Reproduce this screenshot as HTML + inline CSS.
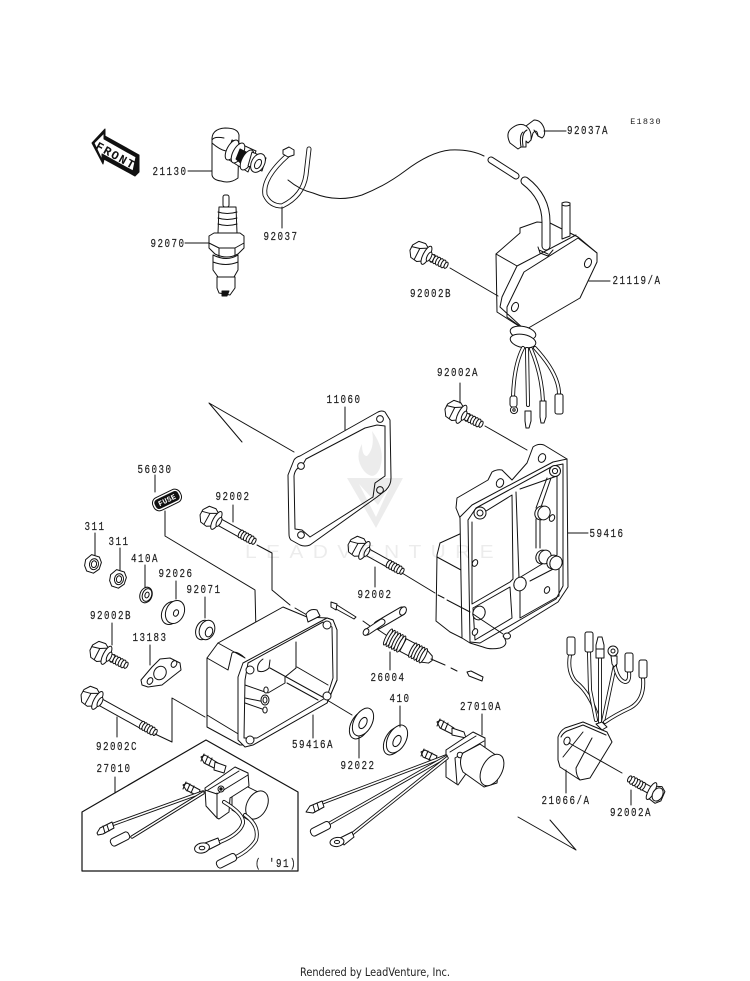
<!DOCTYPE html>
<html><head><meta charset="utf-8">
<style>
html,body{margin:0;padding:0;background:#fff}
svg{display:block}
.p,.p *{fill:#fff;stroke:#111;stroke-width:1;stroke-linejoin:round;stroke-linecap:round}
.n{fill:none!important}
.o{fill:none!important;stroke:#111}
.i{fill:none!important;stroke:#fff!important}
.k{fill:#111!important}
text{font-family:"Liberation Mono",monospace;text-anchor:middle}
.l text{font-size:11.5px;letter-spacing:1.85px;fill:#222;stroke:#222;stroke-width:.2;transform-box:fill-box;transform-origin:center;transform:scaleX(.8)}
</style></head><body>
<svg width="750" height="981" viewBox="0 0 750 981" xmlns="http://www.w3.org/2000/svg">
<defs>
<g id="hd"><path d="M-12,-3 L-8,-9 L-1,-10 L4,-7 L4,7 L-1,10 L-8,9 L-12,3 Z"/><path class="n" d="M-12,-1 L-4,-3 L3,-7 M-4,-3 L-4,9"/><ellipse cx="5" cy="0" rx="3.4" ry="10"/><ellipse cx="8" cy="0" rx="2" ry="5"/></g>
<g id="t"><ellipse cx="0" cy="0" rx="2" ry="4.2"/><ellipse cx="3" cy="0" rx="2" ry="4.2"/><ellipse cx="6" cy="0" rx="2" ry="4.2"/><ellipse cx="9" cy="0" rx="2" ry="4.2"/><ellipse cx="12" cy="0" rx="2" ry="4.2"/><ellipse cx="15" cy="0" rx="1.6" ry="3.4"/></g>
<g id="bl"><rect x="4" y="-3.6" width="38" height="7.2"/><use href="#hd"/><use href="#t" x="33"/></g>
<g id="bs"><use href="#t" x="12"/><rect x="4" y="-3.6" width="9" height="7.2"/><use href="#hd"/></g>
<g id="nut"><path d="M-8,-3 L-3,-9 L5,-8 L8,-3 L7,4 L2,9 L-5,8 L-8,3Z"/><ellipse cx="1" cy="0" rx="4.5" ry="5.5"/><ellipse cx="1" cy="0" rx="2.6" ry="3.4"/></g>
</defs>

<g class="p">
<!-- FRONT arrow -->
<path class="k" d="M92,143 L105,129 L105,136 L139,155 L139,172 L135,176 L104,159 L103,164 Z"/>
<path d="M94,143 L104,133 L104,139 L136,157 L133,171 L102,154 L102,160 Z"/>

<!-- 21130 cap -->
<path d="M212,141 Q211,129 225,128 Q238,128 239,135 L238,178 Q230,184 221,181 Q213,180 212,175 Z"/>
<path class="n" d="M212,143 Q220,150 226,151 M212,140 Q214,136 224,138"/>
<path d="M232,140 L256,151 L248,172 L226,158 Z"/>
<ellipse cx="232" cy="150" rx="5" ry="11" transform="rotate(28 232 150)"/>
<ellipse cx="238" cy="153" rx="5" ry="11" transform="rotate(28 238 153)"/>
<path class="k" d="M240,149 L248,153 L244,166 L236,159Z"/>
<ellipse cx="247" cy="160" rx="5" ry="11" transform="rotate(28 247 160)"/>
<path d="M252,152 L266,158 L262,171 L248,166Z"/>
<ellipse cx="258" cy="163" rx="6.5" ry="10" transform="rotate(28 258 163)"/>
<ellipse cx="258" cy="164" rx="3" ry="5" transform="rotate(28 258 164)"/>

<!-- 92070 plug -->
<rect x="223" y="195" width="6" height="12" rx="2"/>
<path d="M219,207 L236,207 L237,233 L218,233Z"/>
<path class="n" d="M218,212 Q227,215 237,212 M218,218 Q227,221 237,218 M218,224 Q227,227 237,224"/>
<path d="M209,236 L214,233 L240,233 L244,236 L244,248 L238,254 Q227,260 215,254 L209,248Z"/>
<path class="n" d="M209,243 L219,248 L235,248 L244,243 M219,248 L219,257 M235,248 L235,257"/>
<path d="M213,255 Q227,262 238,255 L238,270 L234,277 L218,277 L213,270 Z"/>
<path class="n" d="M213,262 Q226,267 238,262"/>
<path d="M217,277 L235,277 L235,288 L230,295 L219,293 L217,288Z"/>
<path class="k" d="M222,291 L229,291 L227,296 L222,296Z"/>

<!-- 92037 tie -->
<path class="o" d="M288,155 Q262,178 265,195 Q270,206 282,206 Q303,196 306,175 L309,149" style="stroke-width:5"/>
<path class="i" d="M288,155 Q262,178 265,195 Q270,206 282,206 Q303,196 306,175 L309,149" style="stroke-width:3.2"/>
<path d="M283,150 L289,147 L294,150 L294,155 L288,157 L283,154Z"/>
<path class="n" d="M288,180 Q300,190 313,193 Q337,203 362,195 Q385,186 405,171 Q430,152 450,150 Q470,149 484,156"/>

<!-- upper tube -->
<path class="o" d="M491,160 L516,176" style="stroke-width:7"/><path class="i" d="M491,160 L516,176" style="stroke-width:5"/>

<!-- 92037A clip -->
<path d="M510,143 Q505,133 512,128 Q520,122 526,126 L534,120 Q541,120 544,128 Q546,135 542,138 L538,136 Q537,128 533,133 L531,140 L528,143 L526,141 L526,147 L521,147 L518,149 Z"/>
<path class="n" d="M526,126 Q532,130 531,140 M523,132 Q519,135 521,147 M527,130 Q521,133 523,146 M538,136 L534,130"/>
<path class="n" d="M544,131 L566,131"/>

<!-- 21119/A box -->
<path d="M496,254 L520,233 L520,228 L537,222 L550,223 L578,237 L597,253 L597,262 L580,298 L525,330 L497,312 Z"/>
<path class="n" d="M496,254 L517,266 L502,297 L500,307 L525,330 M517,266 L576,235"/>
<path class="n" d="M524,272 L507,307 L507,317 L525,330 M524,272 L578,238 L597,253"/>
<ellipse cx="515" cy="307" rx="3.2" ry="4.8" transform="rotate(25 515 307)"/>
<ellipse cx="588" cy="263" rx="3.2" ry="4.8" transform="rotate(25 588 263)"/>
<path d="M562,203 Q566,201 570,203 L570,236 L562,239Z"/><path class="n" d="M562,205 Q566,207 570,205"/>
<path class="o" d="M525,181 Q546,197 546,222 L546,246" style="stroke-width:9"/>
<path class="i" d="M525,181 Q546,197 546,222 L546,246" style="stroke-width:7"/>
<path class="n" d="M538,247 L540,253 L548,256 L553,250 M539,250 L548,254"/>
<path class="n" d="M589,281 L610,281"/>
<!-- grommet -->
<ellipse cx="523" cy="333" rx="13" ry="6.5" transform="rotate(12 523 333)"/>
<ellipse cx="523" cy="341" rx="13" ry="6.5" transform="rotate(12 523 341)"/>
<!-- wires -->
<path class="o" d="M523,348 Q514,365 513,397" style="stroke-width:4"/><path class="i" d="M523,348 Q514,365 513,397" style="stroke-width:2.2"/>
<path class="o" d="M527,349 L528,405" style="stroke-width:4"/><path class="i" d="M527,349 L528,405" style="stroke-width:2.2"/>
<path class="o" d="M531,349 Q542,375 543,402" style="stroke-width:4"/><path class="i" d="M531,349 Q542,375 543,402" style="stroke-width:2.2"/>
<path class="o" d="M535,348 Q560,375 559,396" style="stroke-width:4"/><path class="i" d="M535,348 Q560,375 559,396" style="stroke-width:2.2"/>
<circle cx="514" cy="410" r="3.6"/><circle cx="514" cy="410" r="1.2"/>
<rect x="510" y="396" width="7" height="11" rx="2.5"/>
<path d="M525,411 L531,411 L531,421 L529,428 L526,428 L525,421Z"/>
<path d="M540,401 L546,401 L546,417 L544,423 L541,423 L540,417Z"/>
<rect x="555" y="394" width="8" height="20" rx="2"/>

<!-- top bolts -->
<use href="#bs" transform="translate(422,253) rotate(27)"/>
<use href="#bs" transform="translate(457,412) rotate(27)"/>
<path class="n" d="M450,268 L498,296 M485,426 L527,450"/>

<!-- gasket 11060 -->
<path d="M288,475 L294,460 Q296,457 300,456 L378,412 Q382,410 385,412 L390,420 L391,478 Q391,485 386,490 L377,497 L310,545 Q305,547 300,545 L291,540 Q289,538 289,534 Z"/>
<path d="M294,476 Q295,468 302,466 L306,459 L365,428 L377,425 L385,426 L385,476 L375,483 L373,497 L310,537 L302,530 L295,529 Z"/>
<circle cx="301" cy="466" r="3.4"/><circle cx="380" cy="419" r="3.4"/><circle cx="380" cy="490" r="3.4"/><circle cx="301" cy="535" r="3.4"/>

<!-- 59416 cover -->
<path d="M437,555 L440,543 L462,533 L462,638 L450,632 L436,621 Z"/>
<path class="n" d="M437,557 L461,570"/>
<path d="M460,518 L456,508 L457,498 L488,480 L492,472 Q497,469 502,470 L512,480 L527,463 L533,447 Q538,443 544,445 L567,459 L568,587 L558,602 L503,636 Q510,645 500,648 Q490,650 483,647 L470,643 L462,638 L460,518 Z"/>
<path class="n" d="M460,517 L472,505 L553,462 L567,459 M468,520 L470,642 M468,520 L476,508 L553,466 L563,464 L563,586 L556,599 L480,643 L470,642"/>
<path class="n" d="M472,522 L472,604 L510,582 L513,579 L512,495 L478,516 M516,492 L519,578 L557,555 L557,476 L520,489 M520,590 L520,618 L559,596 L559,566 L530,581 M473,608 L510,587 L512,618 L475,640 L473,608"/>
<path class="n" d="M547,478 L536,508 M551,478 L540,510 M536,519 L536,548 M540,519 L540,548"/>
<ellipse cx="500" cy="483" rx="3.5" ry="4.5" transform="rotate(25 500 483)"/>
<ellipse cx="542" cy="458" rx="3.5" ry="4.5" transform="rotate(25 542 458)"/>
<ellipse cx="507" cy="636" rx="3.5" ry="3" />
<circle cx="480" cy="513" r="6"/><circle cx="480" cy="513" r="3"/>
<circle cx="555" cy="471" r="5.5"/><circle cx="555" cy="471" r="2.6"/>
<ellipse cx="541" cy="513" rx="6" ry="7" transform="rotate(25 541 513)"/>
<ellipse cx="544" cy="513" rx="6" ry="7" transform="rotate(25 544 513)"/>
<ellipse cx="542" cy="557" rx="6" ry="7" transform="rotate(25 542 557)"/>
<ellipse cx="545" cy="557" rx="6" ry="7" transform="rotate(25 545 557)"/>
<ellipse cx="553" cy="562" rx="6" ry="7" transform="rotate(25 553 562)"/>
<ellipse cx="556" cy="563" rx="6" ry="7" transform="rotate(25 556 563)"/>
<ellipse cx="520" cy="584" rx="6" ry="7" transform="rotate(25 520 584)"/>
<ellipse cx="479" cy="613" rx="6" ry="7" transform="rotate(25 479 613)"/>
<ellipse cx="552" cy="518" rx="2.5" ry="3.5" transform="rotate(25 552 518)"/>
<ellipse cx="475" cy="563" rx="2.5" ry="3.5" transform="rotate(25 475 563)"/>
<ellipse cx="547" cy="590" rx="2.5" ry="3.5" transform="rotate(25 547 590)"/>
<ellipse cx="475" cy="632" rx="2.5" ry="3.5" transform="rotate(25 475 632)"/>
<path class="n" d="M568,533 L588,533"/>

<!-- center bolts -->
<use href="#bl" transform="translate(212,518) rotate(29)"/>
<use href="#bl" transform="translate(360,548) rotate(29)"/>
<path class="n" d="M402,573 L435,593 M438,595 L444,598 M447,600 L470,612 M473,614 L503,634"/>
<path class="n" d="M257,545 L272,553 L272,590 L290,605 M295,608 L307,615"/>
<path class="n" d="M165,511 L165,536 L255,590 L256,633"/>

<!-- 56030 label -->
<g transform="translate(167,500) rotate(-26)"><rect x="-15" y="-7" width="30" height="14" rx="6"/><rect class="k" x="-12.5" y="-4.5" width="25" height="9" rx="3"/></g>

<!-- small parts -->
<use href="#nut" transform="translate(93,564) rotate(10)"/>
<use href="#nut" transform="translate(118,579) rotate(10)"/>
<ellipse cx="146" cy="595" rx="6" ry="8" transform="rotate(20 146 595)"/>
<ellipse cx="147" cy="595" rx="4.6" ry="6.5" transform="rotate(20 147 595)"/>
<ellipse cx="147" cy="595" rx="2" ry="3" transform="rotate(20 147 595)"/>
<ellipse cx="171" cy="613" rx="9" ry="12" transform="rotate(25 171 613)"/>
<ellipse cx="175" cy="612" rx="9" ry="12" transform="rotate(25 175 612)"/>
<ellipse cx="176" cy="613" rx="2.4" ry="3.4" transform="rotate(25 176 613)"/>
<ellipse cx="203" cy="630" rx="7" ry="10" transform="rotate(20 203 630)"/>
<ellipse cx="207" cy="630" rx="7.5" ry="10" transform="rotate(20 207 630)"/>
<ellipse cx="209" cy="632" rx="3.5" ry="5" transform="rotate(20 209 632)"/>
<use href="#bs" transform="translate(102,653) rotate(27)"/>
<path d="M141,680 L152,667 L160,659 L170,658 L180,663 L181,670 L172,677 L162,685 L148,687 L142,685Z"/>
<ellipse cx="160" cy="673" rx="6" ry="7" transform="rotate(30 160 673)"/>
<ellipse cx="150" cy="681" rx="2.6" ry="3.6" transform="rotate(30 150 681)"/>
<ellipse cx="174" cy="664" rx="2.6" ry="3.6" transform="rotate(30 174 664)"/>
<g transform="translate(93,698) rotate(29)"><rect x="4" y="-3.6" width="55" height="7.2"/><use href="#hd"/><use href="#t" x="56"/></g>
<path class="n" d="M155,734 L172,742 L172,698 L205,717"/>

<!-- 59416A box -->
<path d="M207,658 L207,727 L240,745 L253,745 L327,703 L337,680 L337,630 L333,620 L327,618 L307,617 L283,607 L218,643 Z"/>
<path d="M306,614 Q310,608 317,610 L320,616 L308,622Z"/>
<path class="n" d="M218,643 L245,658 M207,658 L228,670 L232,653 Q236,650 245,658 M207,715 L240,735"/>
<path d="M238,677 L243,663 L327,618 L333,620 L337,630 L337,680 L327,703 L253,745 L245,747 L238,740 Z"/>
<path d="M245,680 L248,663 L323,622 L332,627 L333,678 L327,697 L257,738 L244,738 Z"/>
<path class="n" d="M296,642 L296,668 L285,677 L285,683 L268,693 M263,659 Q256,664 258,671 Q264,673 269,668 L270,660"/>
<path class="n" d="M245,685 L265,692 M245,698 L265,702 M245,703 L265,710 M270,668 L328,700 M297,667 L328,685 M287,683 L318,700"/>
<ellipse cx="266" cy="690" rx="2.2" ry="3"/><ellipse cx="265" cy="700" rx="4" ry="5"/><ellipse cx="265" cy="700" rx="2" ry="3"/><ellipse cx="265" cy="710" rx="2.2" ry="3"/>
<circle cx="250" cy="670" r="4"/><circle cx="327" cy="625" r="4"/><circle cx="327" cy="696" r="4"/><circle cx="250" cy="740" r="4"/>
<path class="n" d="M327,700 L352,715"/>

<!-- fuse/pins -->
<path d="M331,602 L337,604 L336,610 L331,607Z"/><path class="n" d="M337,605 L356,617 M336,609 L354,619 M356,617 L354,619"/>
<path class="o" d="M378,625 L402,611" style="stroke-width:9"/><path class="i" d="M378,625 L402,611" style="stroke-width:7"/>
<ellipse cx="403" cy="611" rx="3" ry="4.5" transform="rotate(30 403 611)"/>
<path class="o" d="M367,632 L382,622" style="stroke-width:7"/><path class="i" d="M367,632 L382,622" style="stroke-width:5"/>
<ellipse cx="366" cy="632" rx="2.6" ry="3.6" transform="rotate(30 366 632)"/>
<path class="n" d="M363,621 L370,626 M377,629 L386,635"/>
<!-- 26004 -->
<g transform="translate(388,637) rotate(28)">
<ellipse cx="0" cy="0" rx="2" ry="9"/><ellipse cx="3" cy="0" rx="2" ry="9"/><ellipse cx="6" cy="0" rx="2" ry="9"/><ellipse cx="9" cy="0" rx="2" ry="9"/><ellipse cx="12" cy="0" rx="2" ry="9"/><ellipse cx="15" cy="0" rx="2" ry="9"/>
<rect x="17" y="-7" width="11" height="14"/>
<path d="M40,-7 L48,-4 L50,0 L48,4 L40,7Z"/>
<ellipse cx="28" cy="0" rx="2" ry="8"/><ellipse cx="31" cy="0" rx="2" ry="8"/><ellipse cx="34" cy="0" rx="2" ry="8"/><ellipse cx="37" cy="0" rx="2" ry="8"/><ellipse cx="40" cy="0" rx="2" ry="8"/>
</g>
<path class="n" d="M431,659 L445,665"/>
<path d="M467,672 L471,671 L483,677 L482,681 L469,676Z"/>
<path class="n" d="M451,668 L457,671"/>

<!-- washers -->
<ellipse cx="360" cy="725" rx="9" ry="15" transform="rotate(28 360 725)"/>
<ellipse cx="363" cy="722" rx="9" ry="15" transform="rotate(28 363 722)"/>
<ellipse cx="363" cy="723" rx="3.5" ry="6" transform="rotate(28 363 723)"/>
<ellipse cx="394" cy="741" rx="9" ry="15" transform="rotate(28 394 741)"/>
<ellipse cx="397" cy="739" rx="9" ry="15" transform="rotate(28 397 739)"/>
<ellipse cx="397" cy="741" rx="3.5" ry="6" transform="rotate(28 397 741)"/>

<!-- inset box -->
<path class="n" d="M82,812 L206,740 L298,792 L298,871 L82,871 Z" style="stroke-width:1.2"/>
<path class="n" d="M115,777 L115,793"/>

<!-- relay (inset) -->
<path d="M201,757 L205,755 L218,763 L216,769 L204,763Z"/>
<path class="n" d="M204,754 L201,761 M208,756 L205,763 M212,758 L209,765"/>
<path d="M215,762 L226,766 L224,773 L214,770Z"/>
<path d="M183,785 L187,783 L200,790 L198,796 L186,790Z"/>
<path class="n" d="M186,782 L183,789 M190,784 L187,791 M194,786 L191,793"/>
<path d="M232,785 L236,781 L260,793 L250,821 L232,810Z"/>
<ellipse cx="257" cy="805" rx="10" ry="15" transform="rotate(28 257 805)"/>
<path d="M205,788 L235,767 L248,773 L249,786 L230,798 L229,812 L219,819 L217,818 L206,806Z"/>
<path class="n" d="M208,790 L239,771 M217,793 L217,818 M205,790 L217,794 L248,775"/>
<circle cx="221" cy="789" r="3"/><circle cx="221" cy="789" r="1.2" class="k"/>
<path class="o" d="M203,792 L114,824" style="stroke-width:3.4"/><path class="i" d="M203,792 L114,824" style="stroke-width:1.6"/>
<path class="o" d="M203,793 L132,837" style="stroke-width:3.4"/><path class="i" d="M203,793 L132,837" style="stroke-width:1.6"/>
<path d="M97,833 L100,828 L112,822 L114,828 L103,834 L98,835Z"/>
<path class="n" d="M103,826 L105,833 M107,825 L109,831"/>
<rect x="110" y="835" width="20" height="8" rx="3" transform="rotate(-27 120 839)"/>
<path class="o" d="M224,802 Q244,814 243,823 Q240,834 220,842" style="stroke-width:4"/><path class="i" d="M224,802 Q244,814 243,823 Q240,834 220,842" style="stroke-width:2.2"/>
<path class="o" d="M245,815 Q260,826 256,840 Q250,850 236,857" style="stroke-width:4"/><path class="i" d="M245,815 Q260,826 256,840 Q250,850 236,857" style="stroke-width:2.2"/>
<path d="M205,843 L218,838 L220,844 L208,850Z"/>
<ellipse cx="202" cy="848" rx="7.5" ry="5" transform="rotate(-12 202 848)"/><ellipse cx="202" cy="848" rx="2.8" ry="1.8"/>
<rect x="216" y="857" width="21" height="8" rx="3" transform="rotate(-27 226 861)"/>

<!-- relay 27010A -->
<path d="M437,722 L441,720 L454,728 L452,734 L440,728Z"/>
<path class="n" d="M440,719 L437,726 M444,721 L441,728 M448,723 L445,730"/>
<path d="M452,728 L464,732 L466,738 L452,735Z"/>
<path d="M421,752 L425,750 L437,756 L435,762 L423,757Z"/>
<path class="n" d="M424,749 L421,756 M428,751 L425,758 M432,753 L429,760"/>
<path d="M446,750 L473,732 L485,738 L485,747 L458,785 L446,777Z"/>
<path class="n" d="M450,752 L476,736 M455,758 L484,741 M455,758 L457,784"/>
<circle cx="460" cy="755" r="2.8"/>
<path d="M463,753 L480,744 L500,758 L497,783 L484,787 L463,772 Q458,762 463,753Z"/>
<ellipse cx="492" cy="770" rx="10" ry="17" transform="rotate(28 492 770)"/>
<path class="o" d="M446,756 L322,803" style="stroke-width:3.4"/><path class="i" d="M446,756 L322,803" style="stroke-width:1.6"/>
<path class="o" d="M446,757 L330,823" style="stroke-width:3.4"/><path class="i" d="M446,757 L330,823" style="stroke-width:1.6"/>
<path class="o" d="M447,758 L352,834" style="stroke-width:3.4"/><path class="i" d="M447,758 L352,834" style="stroke-width:1.6"/>
<path d="M306,812 L310,806 L322,801 L324,807 L313,813Z"/><path class="n" d="M313,805 L315,812 M317,803 L319,810"/>
<rect x="310" y="825" width="21" height="8" rx="3" transform="rotate(-27 320 829)"/>
<path d="M340,838 L352,832 L354,837 L344,845Z"/>
<ellipse cx="337" cy="842" rx="7" ry="4.5" transform="rotate(-8 337 842)"/><ellipse cx="337" cy="842" rx="2.6" ry="1.6"/>
<path class="n" d="M482,714 L482,735"/>

<!-- 21066/A -->
<path class="o" d="M570,655 Q567,672 576,682 Q590,693 598,718" style="stroke-width:4"/><path class="i" d="M570,655 Q567,672 576,682 Q590,693 598,718" style="stroke-width:2.2"/>
<path class="o" d="M589,652 L590,690 L596,720" style="stroke-width:4"/><path class="i" d="M589,652 L590,690 L596,720" style="stroke-width:2.2"/>
<path class="o" d="M600,658 L600,722" style="stroke-width:4"/><path class="i" d="M600,658 L600,722" style="stroke-width:2.2"/>
<path class="o" d="M615,665 L603,722" style="stroke-width:4"/><path class="i" d="M615,665 L603,722" style="stroke-width:2.2"/>
<path class="o" d="M615,667 Q618,680 625,682 Q630,682 629,672" style="stroke-width:4"/><path class="i" d="M615,667 Q618,680 625,682 Q630,682 629,672" style="stroke-width:2.2"/>
<path class="o" d="M643,678 Q645,700 630,708 Q615,715 605,722" style="stroke-width:4"/><path class="i" d="M643,678 Q645,700 630,708 Q615,715 605,722" style="stroke-width:2.2"/>
<rect x="567" y="637" width="8" height="18" rx="2"/>
<rect x="585" y="632" width="8" height="20" rx="2"/>
<path d="M596,645 L598,637 L602,637 L604,645 L604,658 L596,658Z"/><path class="n" d="M596,649 L604,649"/>
<circle cx="613" cy="651" r="5"/><circle cx="613" cy="651" r="2"/>
<path d="M611,656 L617,656 L617,664 L614,667 L612,664Z"/>
<rect x="625" y="653" width="8" height="19" rx="2"/>
<rect x="639" y="660" width="8" height="18" rx="2"/>
<path d="M558,737 Q560,731 565,728 L583,722 L607,732 L612,742 L590,778 L580,780 L560,767 L558,760Z"/>
<path class="n" d="M561,737 Q563,733 567,731 L583,725 M583,732 L563,757 M592,738 L576,768 Q576,776 580,780 M583,725 L606,735"/>
<ellipse cx="567" cy="741" rx="3" ry="4" transform="rotate(20 567 741)"/>
<path d="M596,724 L602,722 L607,727 L602,730Z"/>
<path class="n" d="M569,743 L622,773"/>
<g transform="translate(655,793) rotate(209)"><rect x="4" y="-3.6" width="12" height="7.2"/><use href="#t" x="14"/><path d="M-9,-4 L-5,-9 L2,-8 L4,-3 L3,6 L-3,9 L-8,6 Z"/><ellipse cx="4" cy="0" rx="3" ry="9.5"/><ellipse cx="-3" cy="0" rx="5" ry="7"/></g>
<path class="n" d="M518,817 L576,850 M550,820 L576,850"/>

<!-- leaders -->
<path class="n" d="M188,171 L212,171 M185,243 L209,243 M282,207 L282,228 M345,407 L345,430 M233,505 L233,522 M155,475 L155,492 M95,533 L95,555 M120,548 L120,570 M145,565 L145,588 M176,581 L176,599 M205,597 L205,618 M112,623 L112,645 M150,645 L150,665 M117,717 L117,737 M375,567 L375,587 M313,715 L313,738 M390,652 L390,670 M359,736 L359,758 M400,706 L400,727 M460,383 L460,403 M566,770 L566,793 M631,790 L631,805"/>
<path class="n" d="M209,403 L294,452 M209,403 L242,442"/>
</g>

<!-- watermark (over drawing) -->
<g fill="#000" fill-opacity=".075" stroke="none">
<path d="M372,431 Q386,450 380,468 Q374,482 364,471 Q354,458 362,444 Q362,456 367,456 Q375,448 372,431Z"/>
<path d="M347,478 L403,478 L376,528 Z M359,484 L376,517 L391,484 L378,505 Z" fill-rule="evenodd"/>
<text x="374" y="558" textLength="258" lengthAdjust="spacingAndGlyphs" style="font-family:'Liberation Sans',sans-serif;font-size:18px;letter-spacing:8px;fill:#000;fill-opacity:.075">LEADVENTURE</text>
</g>

<!-- labels -->
<g class="l">
<text x="170" y="175">21130</text>
<text x="168" y="247">92070</text>
<text x="281" y="240">92037</text>
<text x="588" y="134">92037A</text>
<text x="431" y="297">92002B</text>
<text x="637" y="284">21119/A</text>
<text x="458" y="376">92002A</text>
<text x="344" y="403">11060</text>
<text x="233" y="500">92002</text>
<text x="155" y="473">56030</text>
<text x="95" y="530">311</text>
<text x="119" y="545">311</text>
<text x="145" y="562">410A</text>
<text x="176" y="577">92026</text>
<text x="204" y="593">92071</text>
<text x="111" y="619">92002B</text>
<text x="150" y="641">13183</text>
<text x="117" y="750">92002C</text>
<text x="375" y="598">92002</text>
<text x="607" y="537">59416</text>
<text x="313" y="748">59416A</text>
<text x="388" y="681">26004</text>
<text x="400" y="702">410</text>
<text x="358" y="769">92022</text>
<text x="481" y="710">27010A</text>
<text x="114" y="772">27010</text>
<text x="276" y="867">( '91)</text>
<text x="566" y="804">21066/A</text>
<text x="631" y="816">92002A</text>
</g>
<text x="646" y="124" style="font-size:8.5px;letter-spacing:1.2px;fill:#222">E1830</text>
<text x="114" y="159" transform="rotate(29 114 159)" style="font-size:12px;font-weight:bold;letter-spacing:1.6px;fill:#111">FRONT</text>
<text x="167" y="502.5" transform="rotate(-26 167 500)" style="font-size:7.5px;font-weight:bold;letter-spacing:.2px;fill:#fff">FUSE</text>
<text x="375" y="976" textLength="150" lengthAdjust="spacingAndGlyphs" style="font-family:'DejaVu Sans',sans-serif;font-size:11.5px;fill:#222">Rendered by LeadVenture, Inc.</text>
</svg>
</body></html>
